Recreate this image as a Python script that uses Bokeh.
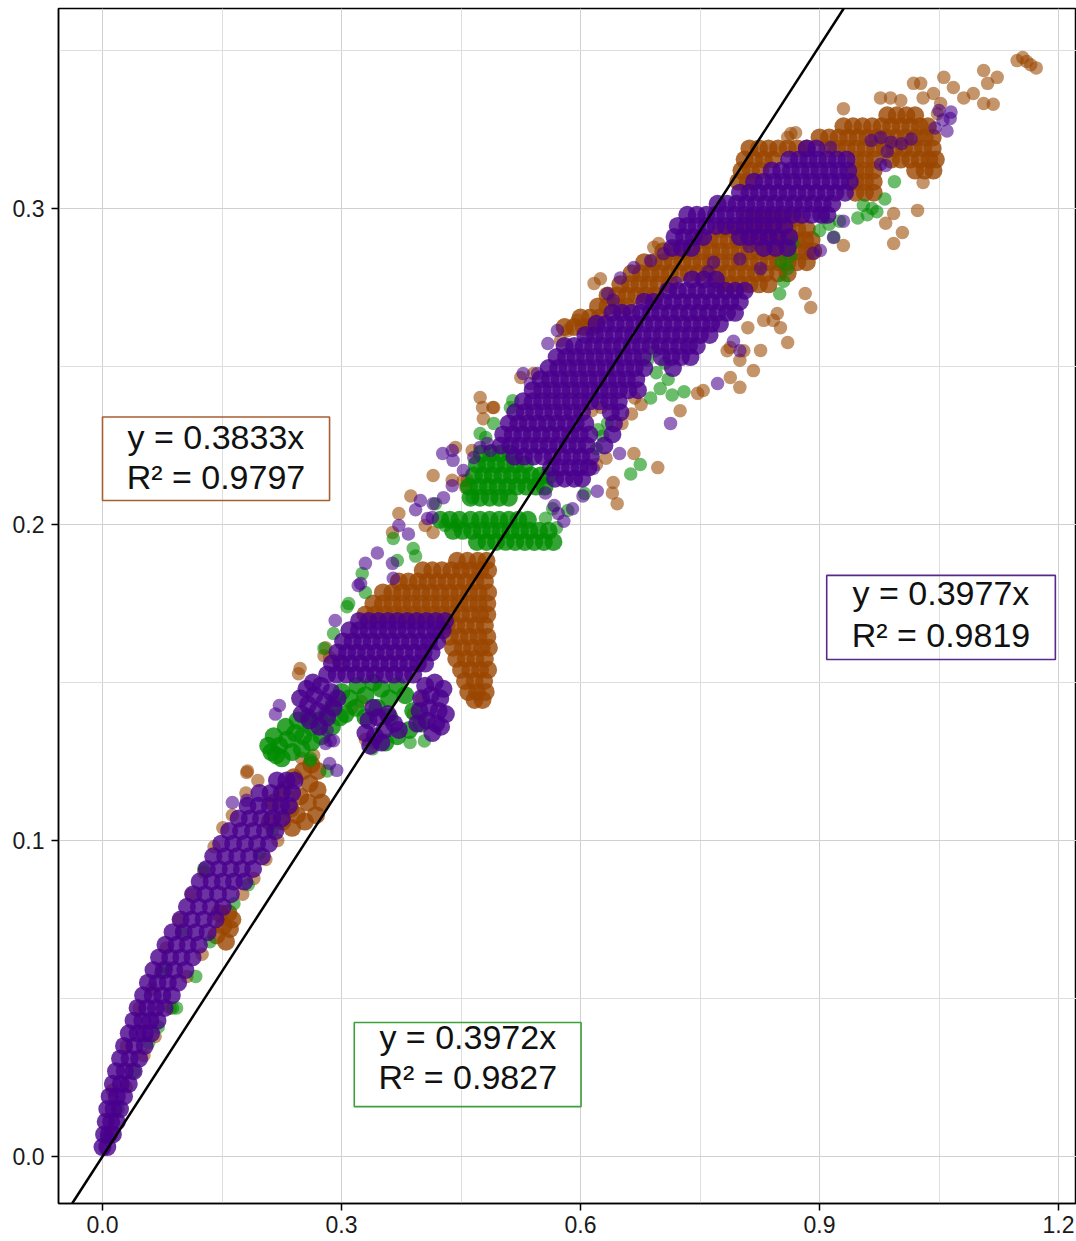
from bokeh.plotting import figure
from bokeh.models import Range1d, FixedTicker, Slope, BoxAnnotation, Label, PrintfTickFormatter
from bokeh.embed import file_html
from bokeh.resources import INLINE

# ---------------- axis ticks ----------------
x_ticks = [0.0, 0.3, 0.6, 0.9, 1.2]
x_minor = [0.15, 0.45, 0.75, 1.05]
y_ticks = [0.0, 0.1, 0.2, 0.3]
y_minor = [0.05, 0.15, 0.25, 0.35]

# reference line slope (through origin)
line_slope = 0.3905

# fit annotations
fit_brown = ["y = 0.3833x", "R\u00b2 = 0.9797"]
fit_purple = ["y = 0.3977x", "R\u00b2 = 0.9819"]
fit_green = ["y = 0.3972x", "R\u00b2 = 0.9827"]

# ---------------- BROWN series (x, y) ----------------
brown_band_pts = [
    (0.012, 0.021), (0.030, 0.035), (0.046, 0.047), (0.062, 0.053), (0.080, 0.066), (0.096, 0.075),
    (0.111, 0.083), (0.127, 0.090), (0.140, 0.098), (0.151, 0.104), (0.163, 0.108), (0.180, 0.115),
    (0.195, 0.119), (0.182, 0.122), (0.030, 0.022), (0.052, 0.032), (0.066, 0.038), (0.085, 0.047),
    (0.106, 0.057), (0.125, 0.064), (0.176, 0.083), (0.190, 0.088), (0.205, 0.094), (0.220, 0.100),
    (0.181, 0.1215), (0.265, 0.127), (0.250, 0.126),
]
brown_band_blob_pts = [
    (0.143, 0.070), (0.152, 0.073), (0.160, 0.072), (0.147, 0.077), (0.158, 0.077), (0.155, 0.068),
    (0.163, 0.075), (0.215, 0.112), (0.228, 0.116), (0.240, 0.120), (0.252, 0.122), (0.262, 0.124),
    (0.270, 0.122), (0.260, 0.118), (0.248, 0.114), (0.236, 0.110), (0.226, 0.106), (0.244, 0.108),
    (0.258, 0.112), (0.270, 0.116), (0.275, 0.112), (0.268, 0.108), (0.254, 0.106), (0.238, 0.104),
    (0.210, 0.106),
]
brown_blob_rows = {
    0.1715: [0.330, 0.342, 0.354, 0.366, 0.378, 0.390, 0.402, 0.414, 0.426, 0.438, 0.450, 0.462, 0.474, 0.483],
    0.175: [0.340, 0.352, 0.364, 0.376, 0.388, 0.400, 0.412, 0.424, 0.436, 0.448, 0.460, 0.472, 0.483],
    0.1785: [0.352, 0.364, 0.376, 0.388, 0.400, 0.412, 0.424, 0.436, 0.448, 0.460, 0.472, 0.484],
    0.182: [0.372, 0.384, 0.396, 0.408, 0.420, 0.432, 0.444, 0.456, 0.468, 0.480],
    0.1855: [0.402, 0.414, 0.426, 0.438, 0.450, 0.462, 0.474, 0.484],
    0.1885: [0.445, 0.458, 0.471, 0.482],
    0.168: [0.432, 0.444, 0.456, 0.468, 0.480],
    0.1645: [0.436, 0.448, 0.460, 0.472, 0.483],
    0.161: [0.440, 0.452, 0.464, 0.476, 0.485],
    0.1575: [0.444, 0.456, 0.468, 0.480],
    0.154: [0.450, 0.462, 0.474, 0.484],
    0.1505: [0.455, 0.467, 0.479],
    0.147: [0.459, 0.470, 0.481],
    0.1445: [0.467, 0.477],
}
brown_mid_pts = [
    (0.313, 0.142), (0.325, 0.144), (0.390, 0.140), (0.400, 0.145), (0.330, 0.132), (0.342, 0.131),
    (0.285, 0.158), (0.280, 0.161), (0.296, 0.157), (0.248, 0.1544), (0.246, 0.1528), (0.278, 0.1585),
    (0.372, 0.2035), (0.364, 0.1975), (0.387, 0.209), (0.405, 0.1997), (0.415, 0.1975), (0.415, 0.2155),
    (0.443, 0.2244), (0.439, 0.214), (0.458, 0.214), (0.456, 0.2117), (0.478, 0.2335), (0.491, 0.237),
    (0.477, 0.237), (0.464, 0.2234), (0.474, 0.2402), (0.490, 0.2370), (0.453, 0.2139),
]
brown_br2_rows = {
    0.2625: [0.580, 0.592, 0.604, 0.614],
    0.2655: [0.600, 0.612, 0.624],
    0.269: [0.622, 0.634, 0.646, 0.658],
    0.2725: [0.634, 0.646, 0.658, 0.670, 0.682, 0.694],
    0.276: [0.650, 0.662, 0.674, 0.686, 0.698, 0.712, 0.776, 0.788, 0.800, 0.812, 0.824, 0.836],
    0.2795: [0.664, 0.676, 0.688, 0.700, 0.712, 0.724, 0.736, 0.748, 0.760, 0.772, 0.784, 0.796,
             0.808, 0.820, 0.832, 0.848, 0.860],
    0.283: [0.680, 0.692, 0.704, 0.716, 0.728, 0.740, 0.752, 0.764, 0.776, 0.788, 0.800, 0.812,
            0.824, 0.836, 0.848, 0.860, 0.872, 0.884],
    0.2865: [0.704, 0.716, 0.728, 0.740, 0.752, 0.764, 0.776, 0.788, 0.800, 0.812, 0.824, 0.836,
             0.848, 0.860, 0.872, 0.884, 0.892],
    0.290: [0.750, 0.762, 0.774, 0.786, 0.798, 0.810, 0.822, 0.834, 0.846, 0.858, 0.870, 0.882, 0.890],
    0.2935: [0.776, 0.788, 0.800, 0.812, 0.824, 0.836, 0.848, 0.860, 0.872, 0.884],
    0.297: [0.810, 0.822, 0.834, 0.846, 0.858, 0.870],
}
brown_br3_rows = {
    0.305: [0.945, 0.957, 0.968],
    0.3085: [0.798, 0.810, 0.945, 0.957, 0.968],
    0.312: [0.802, 0.814, 0.826, 0.945, 0.957, 0.968, 1.020, 1.032, 1.043],
    0.3155: [0.806, 0.818, 0.830, 0.842, 0.945, 0.957, 0.969, 0.990, 1.002, 1.014, 1.026, 1.038, 1.046],
    0.319: [0.812, 0.824, 0.836, 0.848, 0.860, 0.872, 0.884, 0.910, 0.922, 0.934, 0.946, 0.958,
            0.970, 0.982, 0.994, 1.006, 1.018, 1.030, 1.042],
    0.3225: [0.900, 0.912, 0.924, 0.936, 0.948, 0.960, 0.972, 0.984, 0.996, 1.008, 1.020, 1.032, 1.042],
    0.326: [0.930, 0.942, 0.954, 0.966, 0.978, 0.990, 1.002, 1.014, 1.026, 1.036],
    0.3295: [0.985, 0.997, 1.009, 1.020],
}
brown_upper_pts = [
    (0.930, 0.3316), (0.9765, 0.3350), (0.989, 0.3350), (1.002, 0.3342), (1.018, 0.3396), (1.027, 0.3396),
    (1.043, 0.3364), (1.030, 0.3350), (1.048, 0.3300), (1.052, 0.3332), (1.056, 0.3415), (1.068, 0.3383),
    (1.081, 0.3350), (1.093, 0.3364), (1.106, 0.3332), (1.111, 0.3396), (1.123, 0.3415), (1.106, 0.3437),
    (1.118, 0.3330), (1.148, 0.3468), (1.160, 0.3465), (1.172, 0.3445), (1.165, 0.3455), (1.155, 0.3478),
    (0.864, 0.3237), (0.870, 0.3240), (0.860, 0.3225),
    (1.030, 0.3082), (1.023, 0.2994), (0.993, 0.2984), (0.983, 0.2953), (1.004, 0.2924), (0.993, 0.2889),
    (0.930, 0.2883), (0.882, 0.2731), (0.889, 0.2687), (0.847, 0.2668), (0.830, 0.2646), (0.826, 0.2551),
    (0.851, 0.2623), (0.860, 0.2576), (0.810, 0.2623), (0.784, 0.2550), (0.817, 0.2487), (0.800, 0.2520),
    (0.788, 0.2560), (0.805, 0.2550), (0.788, 0.2465), (0.800, 0.2434), (0.842, 0.2646), (0.747, 0.2415),
    (0.754, 0.2424), (0.725, 0.2360), (0.697, 0.2180), (0.667, 0.2225), (0.641, 0.2133), (0.640, 0.2100),
    (0.646, 0.2066), (0.652, 0.232), (0.664, 0.235), (0.676, 0.238), (0.668, 0.240), (0.620, 0.219),
    (0.632, 0.221), (0.614, 0.236), (0.626, 0.237), (0.617, 0.2763), (0.625, 0.2778), (0.584, 0.2614),
    (0.596, 0.2646), (0.525, 0.2465), (0.541, 0.2478), (0.575, 0.2582), (0.692, 0.2877), (0.698, 0.2889),
]

# ---------------- GREEN series (x, y) ----------------
green_band_pts = [
    (0.005, 0.006), (0.020, 0.015), (0.040, 0.027), (0.058, 0.036), (0.070, 0.041), (0.088, 0.047),
    (0.093, 0.047), (0.117, 0.057), (0.073, 0.058), (0.080, 0.060), (0.127, 0.091), (0.165, 0.080),
    (0.183, 0.086), (0.213, 0.103), (0.261, 0.126), (0.282, 0.122), (0.100, 0.071), (0.135, 0.068),
    (0.197, 0.096), (0.261, 0.1253),
]
green_mid_dense_pts = [
    (0.212, 0.128), (0.222, 0.130), (0.232, 0.132), (0.242, 0.134), (0.252, 0.133), (0.262, 0.136),
    (0.272, 0.138), (0.282, 0.140), (0.225, 0.126), (0.238, 0.128), (0.250, 0.129), (0.262, 0.131),
    (0.275, 0.133), (0.288, 0.136), (0.298, 0.139), (0.215, 0.133), (0.230, 0.136), (0.245, 0.138),
    (0.258, 0.139), (0.208, 0.130), (0.218, 0.127),
    (0.290, 0.143), (0.300, 0.147), (0.310, 0.145), (0.320, 0.149), (0.330, 0.146), (0.340, 0.150),
    (0.350, 0.148), (0.305, 0.140), (0.318, 0.142), (0.330, 0.139), (0.345, 0.142), (0.360, 0.145),
    (0.370, 0.149), (0.380, 0.146), (0.390, 0.141), (0.400, 0.137), (0.385, 0.135), (0.370, 0.133),
    (0.355, 0.131), (0.360, 0.139),
]
green_mid_pts = [
    (0.339, 0.129), (0.386, 0.131), (0.404, 0.1315), (0.278, 0.1608),
    (0.290, 0.1655), (0.307, 0.174), (0.326, 0.1845), (0.330, 0.1785), (0.370, 0.1886), (0.365, 0.1956),
    (0.390, 0.1924), (0.393, 0.190), (0.418, 0.2066), (0.430, 0.1997), (0.445, 0.1997), (0.464, 0.2085),
    (0.474, 0.2288), (0.309, 0.175), (0.512, 0.237), (0.515, 0.2392), (0.491, 0.232), (0.481, 0.2275),
]
green_g1_rows = {
    0.2085: [0.462, 0.474, 0.486, 0.498, 0.510],
    0.212: [0.460, 0.472, 0.484, 0.496, 0.508, 0.520, 0.532, 0.544, 0.555],
    0.2155: [0.466, 0.478, 0.490, 0.502, 0.514, 0.526, 0.538, 0.550, 0.560],
    0.219: [0.470, 0.482, 0.494, 0.506, 0.518, 0.530],
    0.2225: [0.476, 0.488, 0.500, 0.512],
    0.2015: [0.424, 0.436, 0.448, 0.462, 0.474, 0.486, 0.498, 0.510, 0.522, 0.534],
    0.198: [0.440, 0.452, 0.464, 0.476, 0.488, 0.500, 0.512, 0.524, 0.536, 0.548, 0.560],
    0.1945: [0.470, 0.482, 0.494, 0.506, 0.518, 0.530, 0.542, 0.554, 0.566],
}
green_upper_pts = [
    (0.556, 0.202), (0.565, 0.205), (0.570, 0.199), (0.620, 0.224), (0.628, 0.228), (0.634, 0.232),
    (0.622, 0.230), (0.663, 0.216), (0.675, 0.219), (0.605, 0.2098), (0.584, 0.2044), (0.688, 0.240),
    (0.700, 0.243), (0.710, 0.246), (0.695, 0.248), (0.706, 0.251), (0.715, 0.241), (0.730, 0.242),
    (0.684, 0.252), (0.694, 0.255),
    (0.850, 0.273), (0.855, 0.277), (0.860, 0.281), (0.864, 0.285), (0.866, 0.289), (0.852, 0.283),
    (0.900, 0.293), (0.912, 0.295), (0.925, 0.296), (0.905, 0.297), (0.918, 0.291),
    (0.948, 0.297), (0.960, 0.298), (0.972, 0.299), (0.955, 0.301), (0.982, 0.303), (0.994, 0.3085),
    (0.966, 0.300),
]

# ---------------- PURPLE series (x, y) ----------------
purple_band_rows = {
    0.003: [0.000, 0.006],
    0.007: [0.002, 0.008, 0.013],
    0.011: [0.004, 0.011, 0.018],
    0.015: [0.006, 0.014, 0.022],
    0.019: [0.009, 0.018, 0.027],
    0.023: [0.013, 0.023, 0.033],
    0.027: [0.017, 0.028, 0.039],
    0.031: [0.022, 0.034, 0.046],
    0.035: [0.027, 0.040, 0.053],
    0.039: [0.033, 0.044, 0.053, 0.061],
    0.043: [0.039, 0.050, 0.060, 0.069],
    0.047: [0.044, 0.056, 0.067, 0.078],
    0.051: [0.051, 0.063, 0.075, 0.087],
    0.055: [0.057, 0.069, 0.082, 0.095],
    0.059: [0.064, 0.077, 0.090, 0.104],
    0.063: [0.071, 0.085, 0.099, 0.113],
    0.067: [0.079, 0.093, 0.107, 0.121],
    0.071: [0.088, 0.102, 0.117, 0.132],
    0.075: [0.098, 0.112, 0.127, 0.142],
    0.079: [0.106, 0.121, 0.136, 0.151],
    0.083: [0.114, 0.129, 0.145, 0.161],
    0.087: [0.122, 0.137, 0.151, 0.165, 0.178],
    0.091: [0.131, 0.146, 0.161, 0.175, 0.189],
    0.095: [0.139, 0.154, 0.169, 0.184, 0.200],
    0.099: [0.149, 0.164, 0.179, 0.194, 0.209],
    0.103: [0.159, 0.174, 0.189, 0.204, 0.217],
    0.107: [0.171, 0.185, 0.199, 0.213, 0.225],
    0.111: [0.182, 0.196, 0.210, 0.224, 0.234],
    0.115: [0.197, 0.211, 0.225, 0.238],
    0.119: [0.219, 0.231, 0.241],
}
purple_blob_rows = {
    0.1525: [0.282, 0.294, 0.306, 0.318, 0.330, 0.342, 0.354, 0.366, 0.378, 0.390],
    0.156: [0.288, 0.300, 0.312, 0.324, 0.336, 0.348, 0.360, 0.372, 0.384, 0.396, 0.405],
    0.1595: [0.295, 0.307, 0.319, 0.331, 0.343, 0.355, 0.367, 0.379, 0.391, 0.403, 0.413],
    0.163: [0.302, 0.314, 0.326, 0.338, 0.350, 0.362, 0.374, 0.386, 0.398, 0.410, 0.420],
    0.1665: [0.310, 0.322, 0.334, 0.346, 0.358, 0.370, 0.382, 0.394, 0.406, 0.418, 0.427],
    0.1695: [0.322, 0.334, 0.346, 0.358, 0.370, 0.382, 0.394, 0.406, 0.418, 0.430],
}
purple_mid_dense_pts = [
    (0.250, 0.140), (0.258, 0.143), (0.266, 0.146), (0.274, 0.149), (0.260, 0.138), (0.270, 0.141),
    (0.279, 0.144), (0.287, 0.147), (0.248, 0.145), (0.256, 0.148), (0.282, 0.139), (0.290, 0.142),
    (0.264, 0.150), (0.295, 0.145), (0.272, 0.136),
    (0.330, 0.134), (0.342, 0.133), (0.354, 0.135), (0.366, 0.137), (0.334, 0.138), (0.346, 0.139),
    (0.358, 0.140), (0.340, 0.142), (0.372, 0.135), (0.395, 0.137), (0.407, 0.138), (0.419, 0.137),
    (0.398, 0.141), (0.410, 0.142), (0.422, 0.141), (0.400, 0.145), (0.412, 0.146), (0.424, 0.145),
    (0.405, 0.149), (0.417, 0.150), (0.428, 0.148), (0.431, 0.140), (0.414, 0.134), (0.425, 0.136),
    (0.336, 0.130), (0.350, 0.131),
]
purple_mid_pts = [
    (0.292, 0.1696), (0.321, 0.1807), (0.324, 0.1813), (0.330, 0.1877), (0.345, 0.191), (0.364, 0.1877),
    (0.365, 0.183), (0.372, 0.1997), (0.384, 0.197), (0.393, 0.2047), (0.399, 0.2076), (0.408, 0.2019),
    (0.414, 0.2022), (0.415, 0.2066), (0.428, 0.2085), (0.427, 0.2225), (0.439, 0.2234), (0.440, 0.2203),
    (0.439, 0.2123), (0.474, 0.2244), (0.487, 0.2234), (0.466, 0.2212), (0.453, 0.2171), (0.483, 0.2256),
    (0.217, 0.140), (0.222, 0.1427), (0.280, 0.1307), (0.286, 0.1316), (0.285, 0.1244), (0.294, 0.1222),
    (0.163, 0.112), (0.181, 0.1127), (0.282, 0.1348), (0.290, 0.1316),
]
purple_pu1_rows = {
    0.2145: [0.568, 0.580, 0.592, 0.602],
    0.218: [0.563, 0.575, 0.587, 0.599, 0.610],
    0.2215: [0.517, 0.529, 0.541, 0.553, 0.565, 0.577, 0.589, 0.601, 0.613],
    0.225: [0.500, 0.512, 0.524, 0.536, 0.548, 0.560, 0.572, 0.584, 0.596, 0.608, 0.630],
    0.2285: [0.503, 0.515, 0.527, 0.539, 0.551, 0.563, 0.575, 0.587, 0.599, 0.611, 0.640],
    0.232: [0.510, 0.522, 0.534, 0.546, 0.558, 0.570, 0.582, 0.594, 0.606, 0.642],
    0.2355: [0.518, 0.530, 0.542, 0.554, 0.566, 0.578, 0.590, 0.602, 0.638, 0.650],
    0.239: [0.528, 0.540, 0.552, 0.564, 0.576, 0.588, 0.600, 0.612, 0.624, 0.636, 0.648],
    0.2425: [0.540, 0.552, 0.564, 0.576, 0.588, 0.600, 0.612, 0.624, 0.636, 0.648, 0.660, 0.672],
    0.246: [0.550, 0.562, 0.574, 0.586, 0.598, 0.610, 0.622, 0.634, 0.646, 0.658, 0.670],
    0.2495: [0.560, 0.572, 0.584, 0.596, 0.608, 0.620, 0.632, 0.644, 0.656, 0.668, 0.680, 0.716],
    0.253: [0.570, 0.582, 0.594, 0.606, 0.618, 0.630, 0.642, 0.654, 0.666, 0.678, 0.702, 0.714, 0.726, 0.738],
    0.2565: [0.580, 0.592, 0.604, 0.616, 0.628, 0.640, 0.652, 0.664, 0.676, 0.688, 0.700, 0.712,
             0.724, 0.736, 0.746],
    0.260: [0.606, 0.618, 0.630, 0.642, 0.654, 0.666, 0.678, 0.690, 0.702, 0.714, 0.726, 0.738, 0.750, 0.762],
    0.2635: [0.620, 0.632, 0.644, 0.656, 0.668, 0.680, 0.692, 0.704, 0.716, 0.728, 0.740, 0.752, 0.764, 0.775],
    0.267: [0.640, 0.652, 0.664, 0.676, 0.688, 0.700, 0.712, 0.724, 0.736, 0.748, 0.760, 0.772, 0.784, 0.794],
    0.2705: [0.680, 0.692, 0.704, 0.716, 0.728, 0.740, 0.752, 0.764, 0.776, 0.788, 0.800],
    0.274: [0.710, 0.722, 0.734, 0.746, 0.758, 0.770, 0.782, 0.794, 0.806],
    0.2775: [0.740, 0.755, 0.770],
}
purple_pu2_rows = {
    0.2875: [0.715, 0.727, 0.739, 0.830, 0.845, 0.860],
    0.291: [0.718, 0.730, 0.742, 0.754, 0.800, 0.812, 0.824, 0.836, 0.848, 0.862],
    0.2945: [0.722, 0.734, 0.746, 0.758, 0.770, 0.782, 0.794, 0.806, 0.818, 0.830, 0.842, 0.856],
    0.298: [0.734, 0.746, 0.758, 0.770, 0.782, 0.794, 0.806, 0.818, 0.830, 0.842, 0.854, 0.866,
            0.878, 0.890, 0.902, 0.910],
    0.3015: [0.772, 0.784, 0.796, 0.808, 0.820, 0.832, 0.844, 0.856, 0.868, 0.880, 0.892, 0.904, 0.916],
    0.305: [0.800, 0.812, 0.824, 0.836, 0.848, 0.860, 0.872, 0.884, 0.896, 0.908, 0.920, 0.932],
    0.3085: [0.818, 0.830, 0.842, 0.854, 0.866, 0.878, 0.890, 0.902, 0.914, 0.926, 0.938],
    0.312: [0.840, 0.852, 0.864, 0.876, 0.888, 0.900, 0.912, 0.924, 0.936],
    0.3155: [0.862, 0.874, 0.886, 0.898, 0.910, 0.922, 0.934],
    0.319: [0.884, 0.896],
}
purple_upper_pts = [
    (0.556, 0.210), (0.567, 0.206), (0.572, 0.2035), (0.579, 0.201), (0.590, 0.205), (0.603, 0.209),
    (0.621, 0.2105), (0.616, 0.2177), (0.649, 0.2225), (0.713, 0.232), (0.772, 0.2446), (0.792, 0.258),
    (0.800, 0.255), (0.559, 0.2573), (0.571, 0.2614), (0.528, 0.2478), (0.537, 0.2446), (0.546, 0.2478),
    (0.634, 0.273), (0.641, 0.271), (0.650, 0.278), (0.667, 0.2813), (0.688, 0.2835), (0.704, 0.2857),
    (0.720, 0.2765), (0.760, 0.280), (0.767, 0.283), (0.800, 0.284), (0.812, 0.288), (0.826, 0.281),
    (0.901, 0.2867), (0.892, 0.2858), (0.9175, 0.2908), (0.930, 0.296), (0.9765, 0.314), (0.983, 0.3136),
    (0.914, 0.3193), (0.965, 0.3215), (0.977, 0.3225), (0.990, 0.321), (1.003, 0.3205), (1.015, 0.322),
    (0.985, 0.318), (1.045, 0.3255), (1.055, 0.328), (1.065, 0.3305), (1.050, 0.331), (1.060, 0.3245),
    (1.064, 0.3285),
]


def collect(*groups):
    xs, ys = [], []
    for g in groups:
        if isinstance(g, dict):
            for y, row in g.items():
                for x in row:
                    xs.append(x)
                    ys.append(y)
        else:
            for x, y in g:
                xs.append(x)
                ys.append(y)
    return xs, ys


# dense cores and loose points of each series
brown_core = collect(brown_band_blob_pts, brown_blob_rows, brown_br2_rows, brown_br3_rows)
brown_loose = collect(brown_band_pts, brown_mid_pts, brown_upper_pts)
green_core = collect(green_mid_dense_pts, green_g1_rows)
green_loose = collect(green_band_pts, green_mid_pts, green_upper_pts)
purple_core = collect(purple_band_rows, purple_blob_rows, purple_mid_dense_pts, purple_pu1_rows, purple_pu2_rows)
purple_loose = collect(purple_mid_pts, purple_upper_pts)

BROWN = "#9A4600"
GREEN = "#008C00"
PURPLE = "#48008C"
FONT = "Liberation Sans"

p = figure(width=1076, height=1241, output_backend="svg", toolbar_location=None,
           x_range=Range1d(-0.05523, 1.22254), y_range=Range1d(-0.01487, 0.36329),
           min_border_left=58, min_border_right=0, min_border_top=8, min_border_bottom=38)
p.background_fill_color = "white"
p.border_fill_color = "white"
p.outline_line_color = "black"
p.outline_line_width = 1.5

p.xaxis.ticker = FixedTicker(ticks=x_ticks, minor_ticks=x_minor)
p.yaxis.ticker = FixedTicker(ticks=y_ticks, minor_ticks=y_minor)
p.xaxis.formatter = PrintfTickFormatter(format="%.1f")
p.yaxis.formatter = PrintfTickFormatter(format="%.1f")
for ax in (p.xaxis, p.yaxis):
    ax.axis_line_color = "black"
    ax.axis_line_width = 1.5
    ax.major_tick_line_color = "black"
    ax.major_tick_line_width = 1.5
    ax.major_tick_out = 7
    ax.major_tick_in = 0
    ax.minor_tick_line_color = None
    ax.major_label_text_font = FONT
    ax.major_label_text_font_size = "23px"
    ax.major_label_text_color = "#1a1a1a"
p.xaxis.major_label_standoff = 5
p.yaxis.major_label_standoff = 7

for g in (p.xgrid, p.ygrid):
    g.grid_line_color = "#d0d0d0"
    g.grid_line_width = 1
    g.minor_grid_line_color = "#dedede"
    g.minor_grid_line_width = 1

layers = [
    (brown_core, BROWN, True), (brown_loose, BROWN, False),
    (green_core, GREEN, True), (green_loose, GREEN, False),
    (purple_core, PURPLE, True), (purple_loose, PURPLE, False),
]
for (xs, ys), col, dense in layers:
    p.scatter(xs, ys, size=18 if dense else 13.5, marker="circle", fill_color=col,
              fill_alpha=0.8 if dense else 0.58, line_color=None)

p.add_layout(Slope(gradient=line_slope, y_intercept=0, line_color="black", line_width=2.5))

# fit boxes: (left, right, top, bottom), text centre x, two baselines, colour
boxes = [
    (0.000, 0.285, 0.2340, 0.2076, 0.1424, 0.2276, 0.2149, "#A65F32", fit_brown),
    (0.909, 1.196, 0.1839, 0.1573, 1.0524, 0.1782, 0.1649, "#5A288C", fit_purple),
    (0.316, 0.6007, 0.0424, 0.0158, 0.4585, 0.0377, 0.0251, "#3CA03C", fit_green),
]
for left, right, top, bottom, cx, b1, b2, col, lines in boxes:
    p.add_layout(BoxAnnotation(left=left, right=right, top=top, bottom=bottom,
                               fill_color=None, line_color=col, line_width=1.6, line_alpha=1))
    for txt, b in zip(lines, (b1, b2)):
        p.add_layout(Label(x=cx, y=b, text=txt, text_align="center", text_baseline="alphabetic",
                           text_font=FONT, text_font_size="34px", text_color="#111111"))

open("out.html", "w").write(file_html(p, INLINE))
